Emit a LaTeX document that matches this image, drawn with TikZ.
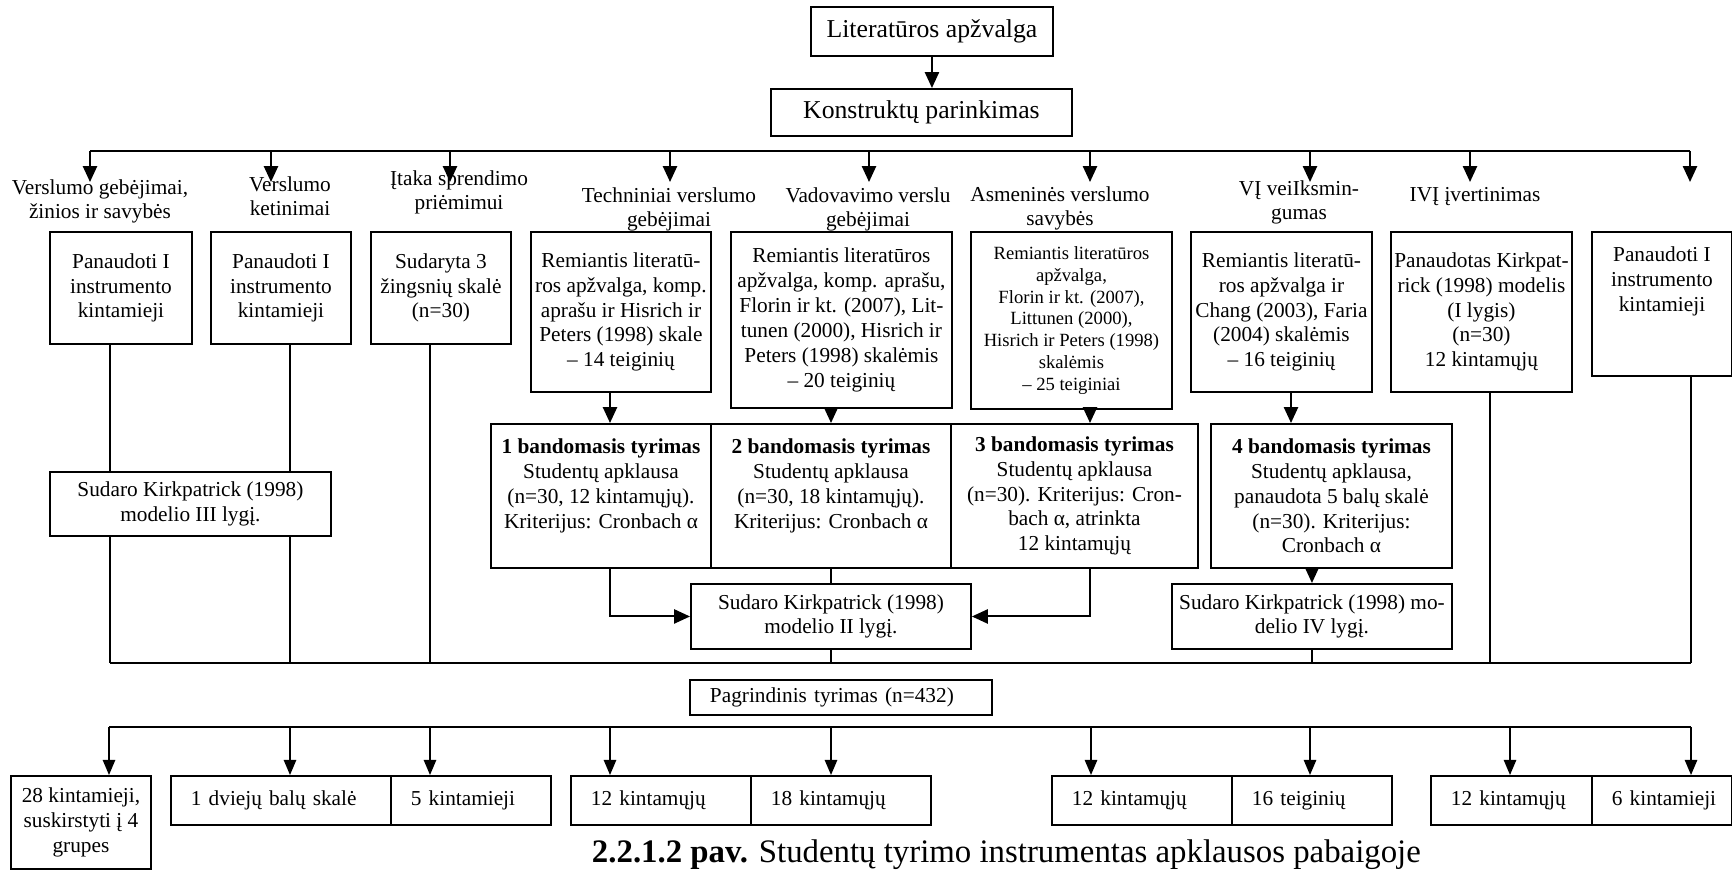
\documentclass[tikz,border=0pt]{standalone}
\usepackage{fontspec}
\setmainfont{Liberation Serif}
\usetikzlibrary{arrows.meta}
\newlength{\pxl}
\setlength{\pxl}{0.5634pt}

\begin{document}
\begin{tikzpicture}[x=0.0198cm, y=-0.0198cm, line width=1.1pt,
  font=\fontsize{12}{14}\selectfont,
  box/.style 2 args={draw, anchor=north west, align=center, inner sep=0pt,
    minimum width=#1\pxl, minimum height=#2\pxl},
  cell/.style={draw, anchor=north west, align=left, inner xsep=20\pxl,
    inner ysep=0pt, text width=#1\pxl, minimum height=49\pxl},
  lbl/.style={align=center, inner sep=0pt, font=\fontsize{12}{13.5}\selectfont},
  arr/.style={-{Triangle[length=9pt,width=8pt]}},
  arrs/.style={line width=0.8pt, -{Triangle[length=8.5pt,width=7pt]}}]
\useasboundingbox (0,0) rectangle (1732,870);

\node[box={242}{49}, font=\fontsize{14.5}{17}\selectfont] (lit) at (810,6) {Literatūros apžvalga};
\node[box={301}{47}, font=\fontsize{14.5}{17}\selectfont] (kon) at (770,88) {Konstruktų parinkimas};
\draw[arr] (lit.south) -- (lit.south |- kon.north);

\node[lbl] (l1) at (100,201) {Verslumo gebėjimai,\\žinios ir savybės};
\node[lbl] (l2) at (290,196) {Verslumo\\ketinimai};
\node[lbl] (l3) at (459,192) {Įtaka sprendimo\\priėmimui};
\node[lbl] (l4) at (669,209) {Techniniai verslumo\\gebėjimai};
\node[lbl] (l5) at (868,209) {Vadovavimo verslu\\gebėjimai};
\node[lbl] (l6) at (1060,208) {Asmeninės verslumo\\savybės};
\node[lbl] (l7) at (1299,202) {VĮ veiIksmin-\\gumas};
\node[lbl] (l8) at (1475,197) {IVĮ įvertinimas};

\coordinate (n1) at (90,151);
\coordinate (n9) at (1690,151);
\draw (n1) -- (n9);
\foreach \x [count=\i] in {90,271,450,670,869,1090,1310,1470,1690} {
  \coordinate (t\i) at (\x,182);
  \draw[arr] (t\i |- n1) -- (t\i);
}

\node[box={142}{112}] (b1) at (49,231) {Panaudoti I\\instrumento\\kintamieji};
\node[box={140}{112}] (b2) at (210,231) {Panaudoti I\\instrumento\\kintamieji};
\node[box={140}{112}] (b3) at (370,231) {Sudaryta 3\\žingsnių skalė\\(n=30)};
\node[box={180}{160}] (b4) at (530,231) {Remiantis literatū-\\ros apžvalga, komp.\\aprašu ir Hisrich ir\\Peters (1998) skale\\– 14 teiginių};
\node[box={221}{176}] (b5) at (730,231) {Remiantis literatūros\\apžvalga, komp. aprašu,\\Florin ir kt. (2007), Lit-\\tunen (2000), Hisrich ir\\Peters (1998) skalėmis\\– 20 teiginių};
\node[box={201}{177}, font=\fontsize{10.5}{12.3}\selectfont] (b6) at (970,231) {Remiantis literatūros\\apžvalga,\\Florin ir kt. (2007),\\Littunen (2000),\\Hisrich ir Peters (1998)\\skalėmis\\– 25 teiginiai};
\node[box={181}{160}] (b7) at (1190,231) {Remiantis literatū-\\ros apžvalga ir\\Chang (2003), Faria\\(2004) skalėmis\\– 16 teiginių};
\node[box={181}{160}] (b8) at (1390,231) {Panaudotas Kirkpat-\\rick (1998) modelis\\(I lygis)\\(n=30)\\12 kintamųjų};
\node[box={140}{144}] (b9) at (1591,231) {Panaudoti I\\instrumento\\kintamieji\\ \mbox{}\\ \mbox{}};

\node[box={220}{144}] (p1) at (490,423) {\textbf{1 bandomasis tyrimas}\\Studentų apklausa\\(n=30, 12 kintamųjų).\\Kriterijus: Cronbach α\\ \mbox{}};
\node[box={240}{144}] (p2) at (710,423) {\textbf{2 bandomasis tyrimas}\\Studentų apklausa\\(n=30, 18 kintamųjų).\\Kriterijus: Cronbach α\\ \mbox{}};
\node[box={247}{144}] (p3) at (950,423) {\textbf{3 bandomasis tyrimas}\\Studentų apklausa\\(n=30). Kriterijus: Cron-\\bach α, atrinkta\\12 kintamųjų};
\node[box={241}{144}] (p4) at (1210,423) {\textbf{4 bandomasis tyrimas}\\Studentų apklausa,\\panaudota 5 balų skalė\\(n=30). Kriterijus:\\Cronbach α};

\node[box={281}{64}] (s3) at (49,471) {Sudaro Kirkpatrick (1998)\\modelio III lygį.};
\node[box={280}{65}] (s2) at (690,583) {Sudaro Kirkpatrick (1998)\\modelio II lygį.};
\node[box={280}{65}] (s4) at (1171,583) {Sudaro Kirkpatrick (1998) mo-\\delio IV lygį.};

\coordinate (m1) at (110,663);
\coordinate (m2) at (1691,663);
\draw (m1) -- (m2);
\draw (110,0 |- b1.south) -- (110,0 |- s3.north);
\draw (290,0 |- b2.south) -- (290,0 |- s3.north);
\draw (110,0 |- s3.south) -- (m1);
\draw (290,0 |- s3.south) -- (290,0 |- m1);
\draw (430,0 |- b3.south) -- (430,0 |- m1);
\draw[arr] (610,0 |- b4.south) -- (610,0 |- p1.north);
\draw[arr] (831,0 |- b5.south) -- (831,0 |- p2.north);
\draw[arr] (1090,0 |- b6.south) -- (1090,0 |- p3.north);
\draw[arr] (1291,0 |- b7.south) -- (1291,0 |- p4.north);
\draw (1490,0 |- b8.south) -- (1490,0 |- m1);
\draw (1691,0 |- b9.south) -- (m2);
\draw[arr] (610,0 |- p1.south) |- (s2.west);
\draw[arr] (1090,0 |- p3.south) |- (s2.east);
\draw (s2.north |- p2.south) -- (s2.north);
\draw (s2.south) -- (s2.south |- m1);
\draw[arr] (s4.north |- p4.south) -- (s4.north);
\draw (s4.south) -- (s4.south |- m1);

\node[cell=262, minimum height=35\pxl] (pag) at (689,679) {Pagrindinis tyrimas (n=432)};

\coordinate (q1) at (109,727);
\coordinate (q2) at (1691,727);
\draw (q1) -- (q2);

\node[box={140}{93}] (k28) at (10,775) {28 kintamieji,\\suskirstyti į 4\\grupes};
\node[cell=180] (ca1) at (170,775) {1 dviejų balų skalė};
\node[cell=120] (ca2) at (390,775) {5 kintamieji};
\node[cell=140] (cb1) at (570,775) {12 kintamųjų};
\node[cell=140] (cb2) at (750,775) {18 kintamųjų};
\node[cell=140] (cc1) at (1051,775) {12 kintamųjų};
\node[cell=120] (cc2) at (1231,775) {16 teiginių};
\node[cell=121] (cd1) at (1430,775) {12 kintamųjų};
\node[cell=100] (cd2) at (1591,775) {\mbox{6 kintamieji}};
\foreach \n/\x in {k28/109, ca1/290, ca2/430, cb1/610, cb2/831, cc1/1091, cc2/1310, cd1/1510, cd2/1691}
  \draw[arrs] (\x,0 |- q1) -- (\x,0 |- \n.north);

\node[anchor=base west, inner sep=0pt, font=\fontsize{18.5}{22}\selectfont] (cap) at (591,862)
  {\textbf{2.2.1.2 pav.} Studentų tyrimo instrumentas apklausos pabaigoje};
\end{tikzpicture}
\end{document}
